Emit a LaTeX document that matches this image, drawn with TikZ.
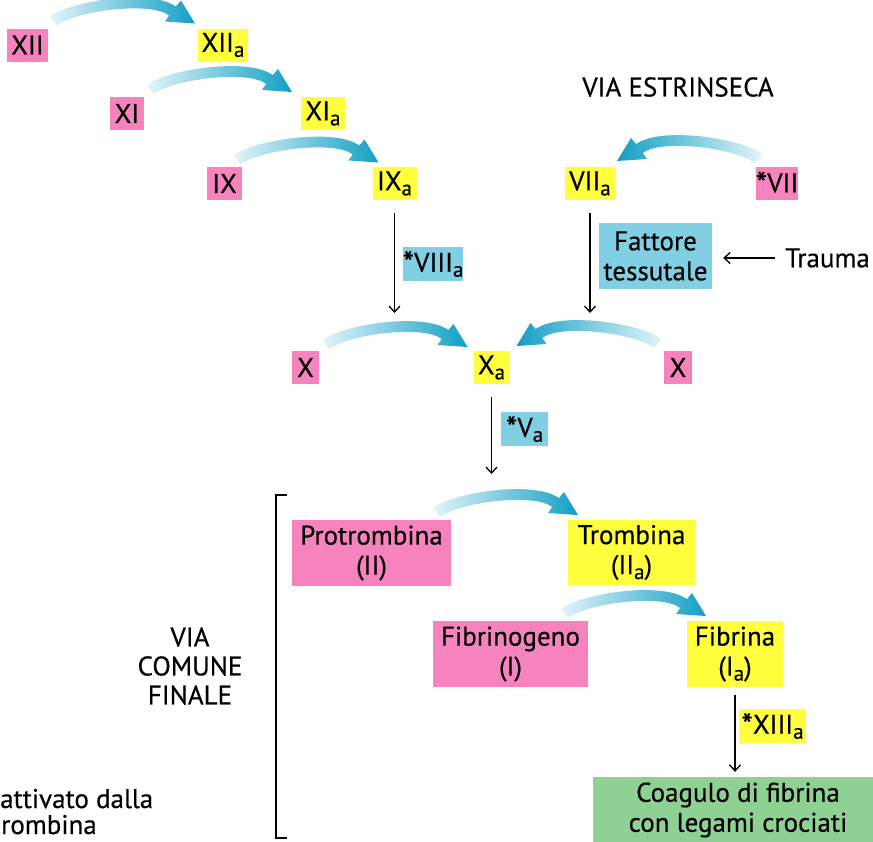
\documentclass[tikz,border=0pt]{standalone}
\usepackage{fontspec}
\setmainfont{PT Sans}[FakeBold=0.4]
\usetikzlibrary{arrows.meta,calc}
\definecolor{pinkc}{HTML}{F783BE}
\definecolor{yelc}{HTML}{FFFF3E}
\definecolor{bluec}{HTML}{80CFE3}
\definecolor{greenc}{HTML}{8ED193}
\definecolor{arrdark}{HTML}{129FC4}
\definecolor{arrlight}{HTML}{E2F4F9}
\newcommand\sbs[1]{\raisebox{-5pt}{\fontsize{21}{21}\selectfont #1}}
\newcommand\bx{\fontsize{27}{30}\selectfont}
\newcommand\astx{\raisebox{-3pt}{\fontsize{33}{30}\selectfont *}}
\tikzset{
  fbox/.style={inner sep=0pt, align=center, font=\bx, minimum height=33pt},
  pk/.style={fbox, fill=pinkc},
  yl/.style={fbox, fill=yelc},
  bl/.style={fbox, fill=bluec},
  gr/.style={fbox, fill=greenc},
  plain/.style={inner sep=0pt, align=center, font=\bx},
  arr/.style={line width=1.3pt, -{Straight Barb[length=6pt,width=11pt]}},
  ribbonR/.pic={\shade[left color=arrlight, right color=arrdark]
    (-3.5,-4.5) .. controls (17,-20.4) and (98.3,-32.4) .. (122.3,-14.4)
    -- (127.5,-20.5) -- (141.5,2.5) -- (111.5,0.5) -- (115.7,-5.6)
    .. controls (96.5,-20) and (22.5,-10.1) .. (3.5,4.5) -- cycle;},
  ribbonL/.pic={\shade[xscale=-1, left color=arrdark, right color=arrlight]
    (-3.5,-4.5) .. controls (17,-20.4) and (98.3,-32.4) .. (122.3,-14.4)
    -- (127.5,-20.5) -- (141.5,2.5) -- (111.5,0.5) -- (115.7,-5.6)
    .. controls (96.5,-20) and (22.5,-10.1) .. (3.5,4.5) -- cycle;}
}
\begin{document}
\begin{tikzpicture}[x=1pt, y=-1pt]
\useasboundingbox (0,0) rectangle (873,841);
\fill[white] (0,0) rectangle (873,841);

% intrinsic cascade
\node[pk, minimum width=41pt] (xii) at (27.5,45) {XII};
\node[yl, minimum width=50pt] (xiia) at (223,45) {XII\sbs{a}};
\node[pk, minimum width=34pt] (xi) at (127,113.5) {XI};
\node[yl, minimum width=44pt] (xia) at (323,113.5) {XI\sbs{a}};
\node[pk, minimum width=35pt] (ix) at (224.5,183.5) {IX};
\node[yl, minimum width=44pt] (ixa) at (394.5,183.5) {IX\sbs{a}};

% extrinsic
\node[plain] (ve) at (678,87) {VIA ESTRINSECA};
\node[yl, minimum width=50pt] (viia) at (590,183.5) {VII\sbs{a}};
\node[pk, minimum width=42pt] (vii) at (777,183.5) {\astx VII};
\node[bl, minimum width=113pt, minimum height=66pt] (ft) at (655.5,256) {Fattore\\tessutale};
\node[plain, anchor=west] (tr) at (785,258) {Trauma};
\node[bl, minimum width=60pt, minimum height=34pt] (viiia) at (433,264) {\astx VIII\sbs{a}};

% X level
\node[pk, minimum width=27pt] (xl) at (305.5,367.5) {X};
\node[yl, minimum width=36pt] (xa) at (491.5,367.5) {X\sbs{a}};
\node[pk, minimum width=28pt] (xr) at (678,367.5) {X};
\node[bl, minimum width=47pt, minimum height=34pt] (va) at (524.5,429) {\astx V\sbs{a}};

% common pathway
\node[pk, minimum width=159pt, minimum height=66pt] (pro) at (371.5,553) {Protrombina\\(II)};
\node[yl, minimum width=127pt, minimum height=65pt] (tro) at (631.5,552.5) {Trombina\\(II\sbs{a})};
\node[pk, minimum width=155pt, minimum height=66pt] (fbg) at (510.5,654) {Fibrinogeno\\(I)};
\node[yl, minimum width=96pt, minimum height=66pt] (fib) at (735,654) {Fibrina\\(I\sbs{a})};
\node[yl, minimum width=67pt, minimum height=34pt] (xiiia) at (772.5,726) {\astx XIII\sbs{a}};
\node[gr, minimum width=290pt, minimum height=66pt] (coag) at (738,810) {Coagulo di fibrina\\con legami crociati};

\node[inner sep=0pt, align=center, font=\fontsize{27}{29}\selectfont] (vcf) at (190,666) {VIA\\COMUNE\\FINALE};
\node[inner sep=0pt, anchor=base west, font=\bx] (att1) at (0,808) {attivato dalla};
\node[inner sep=0pt, anchor=base west, font=\bx] (att2) at (1,834) {rombina};

% bracket
\draw[line width=1.3pt] (287,495) -- (276,495) -- (276,838) -- (287,838);

% curved activation arrows
\coordinate (t1) at (53.5,21);
\coordinate (t2) at (150.5,89.5);
\coordinate (t3) at (237,160);
\coordinate (t4) at (758.5,158.5);
\coordinate (t5) at (326,344.5);
\coordinate (t6) at (658,343.5);
\coordinate (t7) at (436.5,512.5);
\coordinate (t8) at (564.5,613.5);
\pic at (t1) {ribbonR};
\pic at (t2) {ribbonR};
\pic at (t3) {ribbonR};
\pic at (t4) {ribbonL};
\pic at (t5) {ribbonR};
\pic at (t6) {ribbonL};
\pic at (t7) {ribbonR};
\pic at (t8) {ribbonR};

% straight arrows
\coordinate (p1) at (394.5,313);
\coordinate (p2) at (590,313);
\coordinate (p3) at (491.5,474);
\draw[arr, shorten <=13pt] (ixa.south) -- (p1);
\draw[arr, shorten <=13pt] (viia.south) -- (p2);
\draw[arr, shorten <=13pt] (xa.south) -- (p3);
\draw[arr, shorten <=8pt, shorten >=5pt] (fib.south) -- (fib.south |- coag.north);
\draw[arr, shorten <=10pt, shorten >=11pt] (tr.west) -- (ft.east |- tr.west);
\end{tikzpicture}
\end{document}
